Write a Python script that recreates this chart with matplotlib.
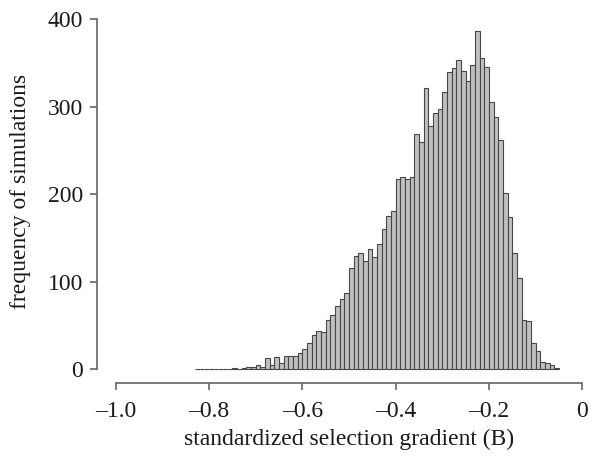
import matplotlib
matplotlib.use("Agg")
import matplotlib.pyplot as plt
import numpy as np

# histogram of standardized selection gradients, bins 0.01 wide
bin_start = -0.83
bin_width = 0.01
counts = [1, 0, 0, 1, 0, 1, 0, 1, 2, 1,
          2, 3, 3, 5, 3, 13, 5, 14, 7, 15,
          15, 15, 19, 23, 30, 39, 44, 43, 56, 62,
          72, 81, 87, 116, 130, 133, 124, 138, 129, 143,
          160, 175, 181, 217, 220, 217, 220, 269, 260, 322,
          278, 293, 298, 317, 340, 344, 353, 341, 330, 348,
          387, 356, 345, 306, 288, 262, 201, 174, 133, 105,
          57, 55, 30, 21, 8, 7, 5, 2]

x_ticks = [-1.0, -0.8, -0.6, -0.4, -0.2, 0.0]
x_tick_labels = ["\u20131.0", "\u20130.8", "\u20130.6", "\u20130.4", "\u20130.2", "0"]
y_ticks = [0, 100, 200, 300, 400]

plt.rcParams['font.family'] = ['Liberation Serif', 'DejaVu Serif']

fig = plt.figure(figsize=(6.0, 4.57), dpi=100)
ax = fig.add_axes([0.1617, 0.162, 0.84, 0.838])

lefts = bin_start + bin_width * np.arange(len(counts))
ax.bar(lefts, counts, width=bin_width, align='edge',
       color='#c0c0c0', edgecolor='#474747', linewidth=0.8)

ax.set_xlim(-1.04, 0.04)
ax.set_ylim(-15.4, 422)

for s in ['top', 'right']:
    ax.spines[s].set_visible(False)
ax.spines['left'].set_bounds(0, 400)
ax.spines['bottom'].set_bounds(-1.0, 0.0)
for s in ['left', 'bottom']:
    ax.spines[s].set_color('#666666')
    ax.spines[s].set_linewidth(1.2)

ax.set_xticks(x_ticks)
ax.set_xticklabels(x_tick_labels)
ax.set_yticks(y_ticks)
ax.tick_params(axis='both', colors='#666666', labelcolor='#1a1a1a',
               labelsize=17, length=5, width=1.2)
ax.tick_params(axis='x', pad=8)
ax.tick_params(axis='y', pad=5)

ax.set_xlabel('standardized selection gradient (B)', fontsize=17, color='#1a1a1a', labelpad=5)
ax.set_ylabel('frequency of simulations', fontsize=17, color='#1a1a1a', labelpad=12)

fig.savefig('out.png', dpi=100)
